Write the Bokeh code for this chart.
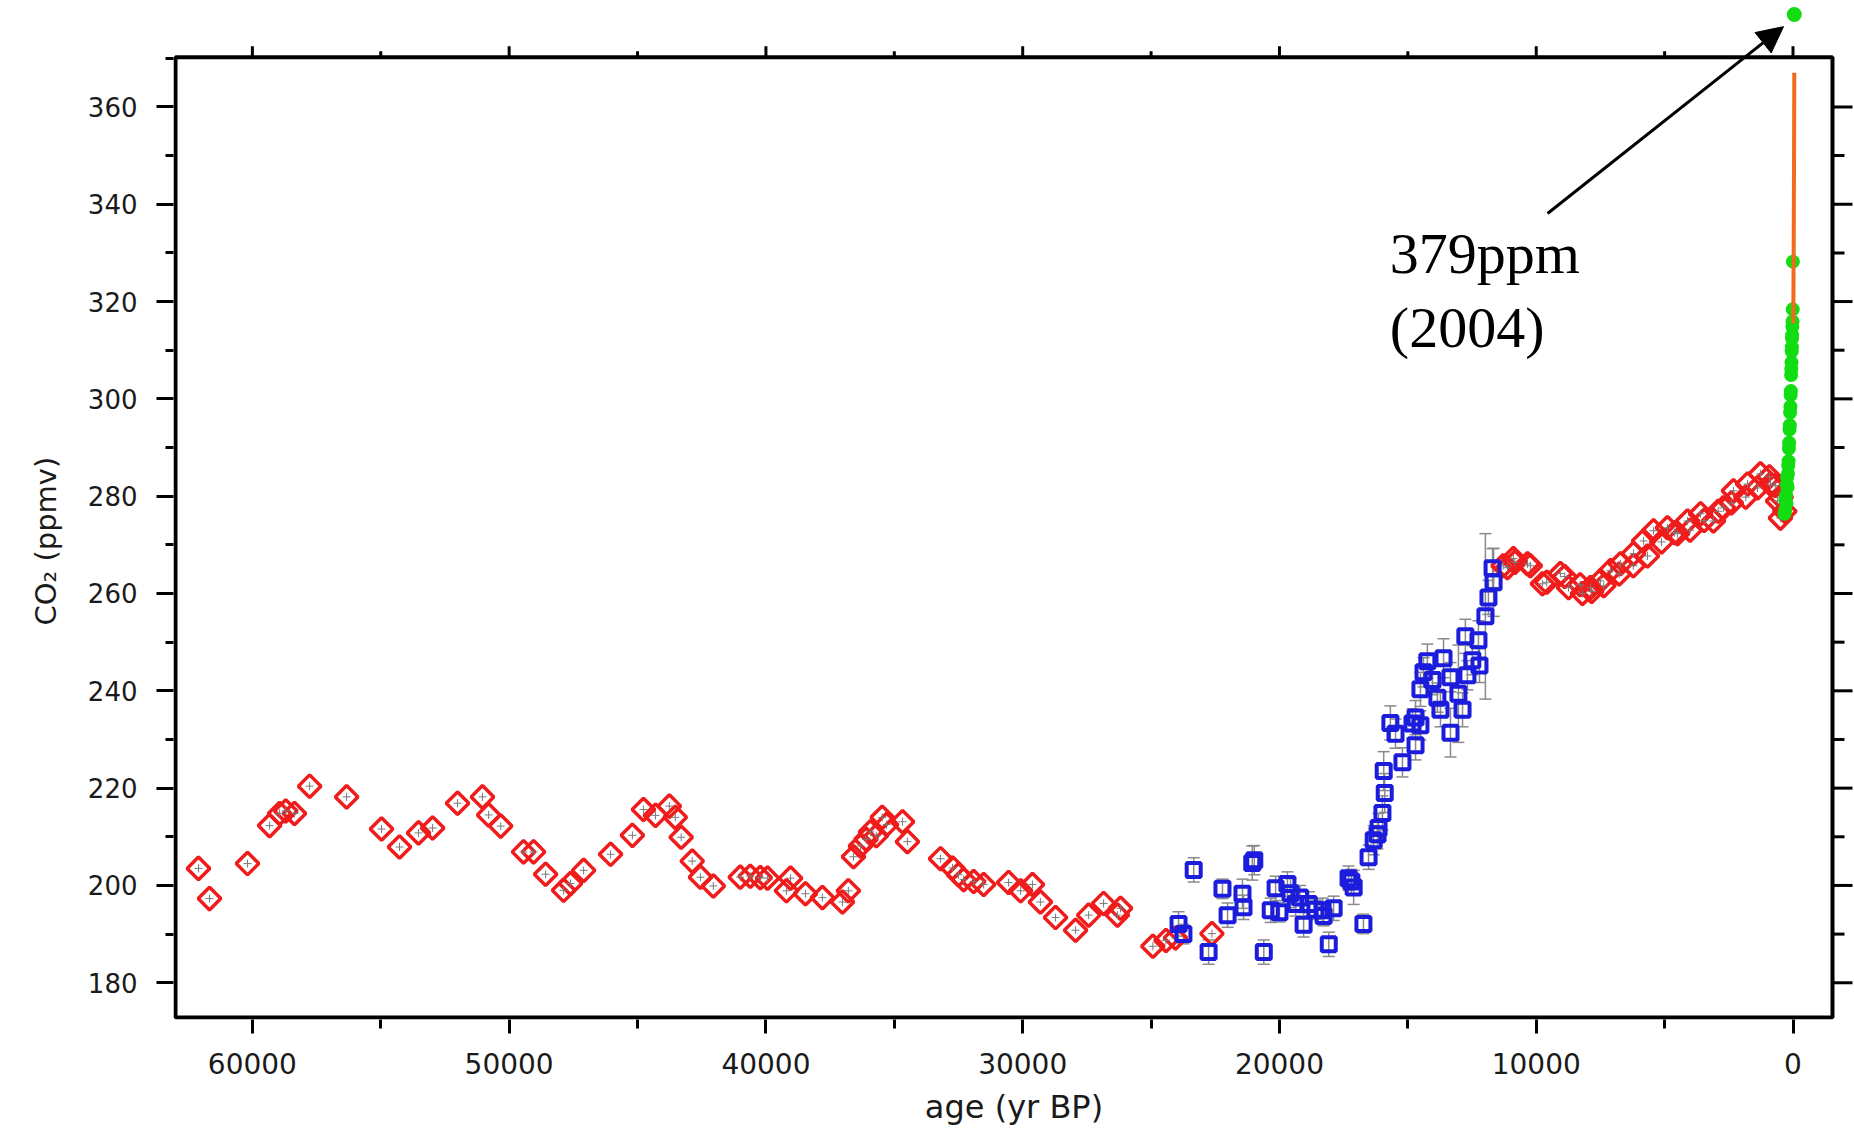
import numpy as np
from bokeh.plotting import figure
from bokeh.models import (Range1d, FixedTicker, BasicTickFormatter, BoxAnnotation,
                          Arrow, NormalHead, Label, Whisker, ColumnDataSource, TeeHead, Title)
from bokeh.embed import file_html
from bokeh.resources import INLINE

# ---------------- data ----------------
# red diamonds, glacial part
red_age_glacial = [62100, 61670, 60190, 59330, 58940, 58700, 58360, 57770, 56330, 54970,
                   54270, 53530, 52980, 52010, 51040, 50800, 50330, 49440, 49050, 48580,
                   47880, 47610, 47100, 46050, 45200, 44770, 44300, 43760, 43530, 43300,
                   42870, 42550, 42050, 41000, 40610, 40220, 39940, 39200, 39040, 38460,
                   37800, 37020, 36790, 36590, 36320, 36100, 35930, 35700, 35470, 35300,
                   34680, 34490, 33200, 32730, 32500, 32300, 31910, 31520, 30550, 30080,
                   29620, 29310, 28720, 27940, 27430, 26850, 26310, 26190, 24930, 24420,
                   24050, 22630]
red_co2_glacial = [203.5, 197.3, 204.5, 212.3, 214.8, 215.3, 214.8, 220.4, 218.2, 211.6,
                   207.9, 210.8, 211.8, 216.9, 218.2, 214.5, 212.2, 206.9, 206.9, 202.3,
                   199.0, 200.4, 203.1, 206.4, 210.3, 215.6, 214.4, 216.3, 214.0, 209.9,
                   205.0, 201.7, 199.9, 201.7, 201.9, 201.6, 201.5, 198.9, 201.5, 198.3,
                   197.5, 196.6, 198.9, 205.9, 208.1, 209.5, 211.0, 210.2, 214.0, 212.5,
                   213.1, 209.0, 205.5, 203.6, 202.2, 201.2, 200.8, 200.2, 200.6, 198.9,
                   200.2, 196.6, 193.4, 190.8, 193.9, 196.3, 193.9, 195.3, 187.5, 188.7,
                   189.2, 190.1]

# red diamonds, Holocene part
red_age_holo = [11290, 11120, 10890, 10830, 10340, 10230, 9760, 9590, 9060, 8890,
                8740, 8290, 8200, 7890, 7840, 7500, 7370, 7110, 6770, 6720,
                6220, 6210, 5820, 5670, 5430, 5120, 4890, 4610, 4500, 4110,
                4010, 3600, 3460, 3100, 2910, 2710, 2400, 2320, 1840, 1770,
                1380, 1270, 920, 880, 690, 600, 490, 460, 320]
red_co2_holo = [265.7, 265.3, 267.2, 266.4, 266.1, 265.7, 262.0, 262.3, 264.1, 263.5,
                261.2, 261.8, 260.0, 261.2, 260.4, 262.6, 261.6, 264.7, 264.0, 266.1,
                265.7, 268.2, 270.8, 267.7, 272.9, 270.6, 273.5, 272.5, 272.3, 274.9,
                273.0, 276.4, 275.0, 274.9, 276.9, 277.6, 278.6, 281.1, 279.8, 282.5,
                281.7, 284.6, 284.0, 282.5, 282.2, 279.0, 275.5, 279.8, 276.9]

# blue squares (deglaciation record) with error half-widths
blue_age = [23930, 23740, 23340, 22760, 22220, 22020, 21440, 21400, 21060, 20980,
            20610, 20340, 20150, 20000, 19690, 19570, 19370, 19200, 19060, 18860,
            18600, 18320, 18280, 18080, 17890, 17310, 17200, 17110, 16730, 16530,
            16330, 16180, 16140, 15990, 15900, 15940, 15680, 15480, 15210, 14820,
            14700, 14700, 14510, 14510, 14390, 14240, 14040, 13850, 13730, 13610,
            13340, 13340, 13030, 12870, 12760, 12680, 12490, 12250, 12210, 11980,
            11860, 11660, 11700]
blue_co2 = [192.1, 190.0, 203.2, 186.3, 199.3, 193.9, 198.3, 195.5, 204.6, 205.2,
            186.3, 194.9, 199.4, 194.5, 200.3, 198.4, 196.2, 197.5, 191.9, 196.2,
            195.0, 194.9, 193.7, 187.9, 195.3, 201.5, 200.8, 199.6, 192.1, 205.8,
            209.3, 210.5, 211.8, 214.9, 219.0, 223.5, 233.4, 231.2, 225.3, 233.3,
            234.5, 228.8, 232.9, 240.3, 243.8, 246.1, 242.2, 238.6, 236.1, 246.7,
            242.8, 231.4, 239.4, 236.1, 251.2, 243.2, 246.3, 250.4, 245.2, 255.3,
            259.2, 262.3, 265.2]
blue_err = [2.5, 2.0, 2.5, 2.5, 2.0, 2.5, 3.0, 2.5, 3.5, 3.0,
            2.5, 2.5, 2.5, 2.0, 2.5, 3.0, 2.5, 2.5, 2.5, 2.5,
            2.0, 2.5, 2.0, 2.5, 2.5, 2.5, 2.5, 3.5, 2.0, 2.5,
            3.0, 3.0, 3.0, 3.5, 4.0, 4.0, 3.5, 3.0, 3.0, 3.0,
            3.5, 3.0, 3.0, 3.5, 3.0, 3.5, 3.0, 3.0, 3.5, 4.0,
            3.0, 5.0, 10.0, 3.5, 3.5, 3.0, 3.0, 4.0, 3.5, 17.0,
            3.5, 7.0, 4.0]

# green points (recent ice / firn air)
green_age = [330, 305, 290, 270, 255, 240, 228, 210, 196, 185,
             172, 160, 150, 136, 124, 112, 100, 92, 82, 74,
             66, 58, 50, 44, 38, 31, 25, 18, 10, 4]
green_co2 = [276.4, 277.1, 279.3, 280.2, 278.5, 282.4, 283.8, 281.9, 284.6, 286.3,
             287.2, 289.8, 291.0, 293.7, 294.6, 297.2, 298.4, 300.8, 301.6, 304.9,
             306.1, 307.5, 309.8, 310.6, 312.4, 313.1, 314.8, 315.9, 318.4, 328.2]

# orange line (atmospheric measurements)
orange_age = [-8, -14, -20, -26, -32, -38, -44, -50]
orange_co2 = [315.5, 319.0, 324.5, 330.0, 338.5, 346.0, 355.0, 367.0]

# latest value, annotated
modern_age = [-50]
modern_co2 = [379.0]

x_major = [60000, 50000, 40000, 30000, 20000, 10000, 0]
x_minor = [55000, 45000, 35000, 25000, 15000, 5000]
y_major = [180, 200, 220, 240, 260, 280, 300, 320, 340, 360]
y_minor = [190, 210, 230, 250, 270, 290, 310, 330, 350, 370]

# ---------------- layout constants ----------------
W, H = 1854, 1128
BORDER_L, BORDER_B = 173, 109
FRAME_W_PX = W - BORDER_L
FRAME_H_PX = H - BORDER_B
X_START, X_END = 63072, -2395        # plotting area (extends right of the box for right ticks)
Y_BOTTOM, Y_TOP = 172.45, 381.87     # plotting area (extends above the box for the 2004 dot)
BOX_RIGHT = -1538                    # right edge of the drawn frame box
BOX_TOP = 370.2                      # top edge of the drawn frame box
AGE_PER_PX = (X_START - X_END) / FRAME_W_PX
PPM_PER_PX = (Y_TOP - Y_BOTTOM) / FRAME_H_PX

RED = "#f01c1c"
BLUE = "#1c1cdc"
GREEN = "#12dd12"
ORANGE = "#f26a1b"
INK = "#1a1a1a"

p = figure(width=W, height=H, output_backend="svg", toolbar_location=None,
           x_range=Range1d(X_START, X_END), y_range=Range1d(Y_BOTTOM, Y_TOP),
           min_border_left=BORDER_L, min_border_right=0, min_border_top=0,
           min_border_bottom=BORDER_B,
           background_fill_color="white", border_fill_color="white")
p.outline_line_color = None
p.grid.visible = False

# bottom axis
xa = p.xaxis[0]
xa.ticker = FixedTicker(ticks=x_major, minor_ticks=x_minor)
xa.formatter = BasicTickFormatter(use_scientific=False)
xa.axis_line_color = None
xa.major_tick_out = 14
xa.major_tick_in = 0
xa.minor_tick_out = 9
xa.minor_tick_in = 0
xa.major_tick_line_width = 3
xa.minor_tick_line_width = 3
xa.major_tick_line_color = "black"
xa.minor_tick_line_color = "black"
xa.major_label_text_font = "DejaVu Sans"
xa.major_label_text_font_size = "28px"
xa.major_label_text_color = INK
xa.major_label_standoff = 19
xa.axis_label = "age (yr BP)"
xa.axis_label_text_font = "DejaVu Sans"
xa.axis_label_text_font_size = "32px"
xa.axis_label_text_font_style = "normal"
xa.axis_label_text_color = INK
xa.axis_label_standoff = 11

# left axis
ya = p.yaxis[0]
ya.ticker = FixedTicker(ticks=y_major, minor_ticks=y_minor)
ya.axis_line_color = None
ya.major_tick_out = 17
ya.major_tick_in = 0
ya.minor_tick_out = 8
ya.minor_tick_in = 0
ya.major_tick_line_width = 3
ya.minor_tick_line_width = 3
ya.major_tick_line_color = "black"
ya.minor_tick_line_color = "black"
ya.major_label_text_font = "DejaVu Sans"
ya.major_label_text_font_size = "26px"
ya.major_label_text_color = INK
ya.major_label_standoff = 19

# y-axis title, placed along the boxed region
ytitle = Title(text="CO₂ (ppmv)", align="left", vertical_align="top", offset=394,
               text_font="DejaVu Sans", text_font_size="29px", text_font_style="normal",
               text_color=INK)
if "standoff" in Title.properties():
    ytitle.standoff = 40
p.add_layout(ytitle, "left")

# frame box (kept inside the plotting area so its line is not clipped)
p.add_layout(BoxAnnotation(left=X_START - 2 * AGE_PER_PX, right=BOX_RIGHT,
                           bottom=Y_BOTTOM + 2 * PPM_PER_PX, top=BOX_TOP,
                           fill_color=None, line_color="black", line_alpha=1.0, line_width=4))

# top ticks pointing outward
p.segment(x0=x_major, y0=[BOX_TOP] * len(x_major), x1=x_major,
          y1=[BOX_TOP + 11 * PPM_PER_PX] * len(x_major), line_color="black", line_width=3)
p.segment(x0=x_minor, y0=[BOX_TOP] * len(x_minor), x1=x_minor,
          y1=[BOX_TOP + 6 * PPM_PER_PX] * len(x_minor), line_color="black", line_width=3)

# right ticks pointing outward
rt_minor = [v for v in y_minor if v < BOX_TOP - 1]
p.segment(x0=[BOX_RIGHT] * len(y_major), y0=y_major,
          x1=[BOX_RIGHT - 20 * AGE_PER_PX] * len(y_major), y1=y_major,
          line_color="black", line_width=3)
p.segment(x0=[BOX_RIGHT] * len(rt_minor), y0=rt_minor,
          x1=[BOX_RIGHT - 12 * AGE_PER_PX] * len(rt_minor), y1=rt_minor,
          line_color="black", line_width=3)

# blue error bars
blue_src = ColumnDataSource(dict(x=blue_age, y=blue_co2,
                                 lo=[c - e for c, e in zip(blue_co2, blue_err)],
                                 hi=[c + e for c, e in zip(blue_co2, blue_err)]))
p.add_layout(Whisker(base="x", lower="lo", upper="hi", source=blue_src,
                     line_color="#8a8a8a", line_width=1.5,
                     upper_head=TeeHead(size=12, line_color="#8a8a8a", line_width=1.5),
                     lower_head=TeeHead(size=12, line_color="#8a8a8a", line_width=1.5)))

# red diamonds
red_age = red_age_glacial + red_age_holo
red_co2 = red_co2_glacial + red_co2_holo
p.scatter(red_age, red_co2, marker="square", angle=np.pi / 4, size=16,
          fill_color=None, line_color=RED, line_width=3.5)
p.scatter(red_age, red_co2, marker="cross", size=8, line_color="#7a7a7a", line_width=1)

# blue squares
p.scatter("x", "y", source=blue_src, marker="square", size=14,
          fill_color=None, line_color=BLUE, line_width=4)

# green points and orange line
p.scatter(green_age, green_co2, marker="circle", size=14, fill_color=GREEN, line_color=None)
p.line(orange_age, orange_co2, line_color=ORANGE, line_width=4)
p.scatter(modern_age, modern_co2, marker="circle", size=15, fill_color=GREEN, line_color=None)

# annotation
p.add_layout(Arrow(end=NormalHead(size=26, fill_color="black", line_color="black"),
                   x_start=9560, y_start=338.1, x_end=370, y_end=376.5,
                   line_color="black", line_width=3))
p.add_layout(Label(x=15700, y=329.9, text="379ppm", text_font="Liberation Serif",
                   text_font_size="58px", text_color="black", text_baseline="alphabetic"))
p.add_layout(Label(x=15700, y=314.6, text="(2004)", text_font="Liberation Serif",
                   text_font_size="58px", text_color="black", text_baseline="alphabetic"))

open("out.html", "w").write(file_html(p, INLINE))
